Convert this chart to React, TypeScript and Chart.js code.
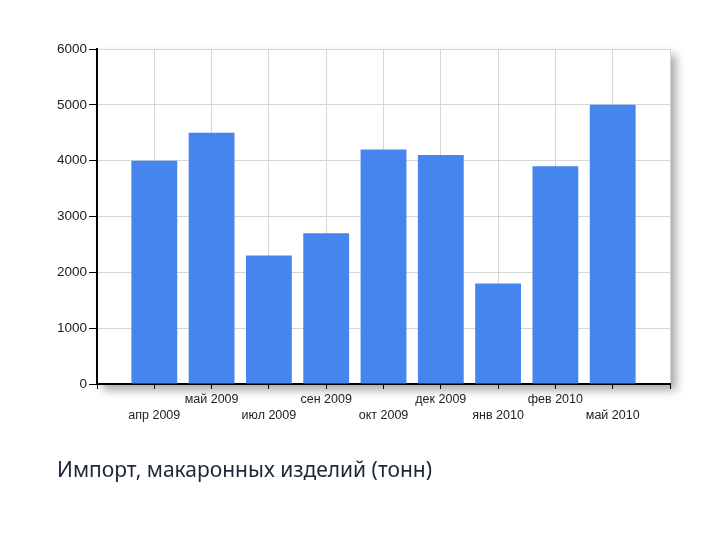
import React, { useEffect, useRef } from "react";
import { Chart, registerables } from "chart.js";

Chart.register(...registerables);

const months = [
  "апр 2009",
  "май 2009",
  "июл 2009",
  "сен 2009",
  "окт 2009",
  "дек 2009",
  "янв 2010",
  "фев 2010",
  "май 2010",
];
const values = [4000, 4500, 2300, 2700, 4200, 4100, 1800, 3900, 5000];
const yTicks = [0, 1000, 2000, 3000, 4000, 5000, 6000];
const caption = "Импорт, макаронных изделий (тонн)";

const shadowPlugin = {
  id: "areaShadow",
  beforeDraw(chart: any) {
    const { ctx, chartArea } = chart;
    ctx.save();
    ctx.shadowColor = "rgba(0,0,0,0.35)";
    ctx.shadowBlur = 9;
    ctx.shadowOffsetX = 6;
    ctx.shadowOffsetY = 6;
    ctx.fillStyle = "#ffffff";
    ctx.fillRect(
      chartArea.left,
      chartArea.top,
      chartArea.right - chartArea.left,
      chartArea.bottom - chartArea.top
    );
    ctx.restore();
  },
};

export default function App() {
  const ref = useRef<HTMLCanvasElement | null>(null);

  useEffect(() => {
    if (!ref.current) return;
    const labels: any[] = ["", ...months.map((m, i) => (i % 2 === 0 ? ["", m] : [m, ""])), ""];
    const data: (number | null)[] = [null, ...values, null];
    const chart = new Chart(ref.current, {
      type: "bar",
      data: {
        labels,
        datasets: [
          {
            data,
            backgroundColor: "#4684ee",
            borderWidth: 0,
            categoryPercentage: 0.8,
            barPercentage: 1,
          },
        ],
      },
      plugins: [shadowPlugin],
      options: {
        animation: false,
        responsive: false,
        layout: { padding: { top: 49, right: 50, left: 0, bottom: 0 } },
        plugins: {
          legend: { display: false },
          tooltip: { enabled: false },
          title: { display: false },
        },
        scales: {
          x: {
            type: "category",
            offset: false,
            afterFit: (scale: any) => {
              scale.height = 156;
            },
            grid: {
              offset: false,
              color: "#d6d6d6",
              lineWidth: 1,
              tickColor: "#000",
              tickLength: 5,
              drawTicks: true,
            },
            border: { color: "#000", width: 2 },
            ticks: {
              autoSkip: false,
              maxRotation: 0,
              minRotation: 0,
              padding: 3,
              color: "#222",
              font: { family: "'Liberation Sans', Arial, sans-serif", size: 12.5, lineHeight: 16 / 12.5 },
            },
          },
          y: {
            min: 0,
            max: 6000,
            afterFit: (scale: any) => {
              scale.width = 97;
            },
            afterBuildTicks: (scale: any) => {
              scale.ticks = yTicks.map((v) => ({ value: v }));
            },
            grid: {
              color: "#d6d6d6",
              lineWidth: 1,
              tickColor: "#000",
              tickLength: 8,
            },
            border: { color: "#000", width: 2 },
            ticks: {
              padding: 2,
              color: "#222",
              font: { family: "'Liberation Sans', Arial, sans-serif", size: 13.5 },
              callback: (v: any) => String(v),
            },
          },
        },
      },
    });
    return () => chart.destroy();
  }, []);

  return (
    <div
      style={{
        position: "fixed",
        left: 0,
        top: 0,
        width: 720,
        height: 540,
        background: "#fff",
      }}
    >
      <canvas ref={ref} width={720} height={540} style={{ display: "block" }} />
      <div
        style={{
          position: "absolute",
          left: 57,
          top: 459,
          fontFamily: "'Noto Sans', 'Open Sans', sans-serif",
          fontSize: 21,
          lineHeight: "20px",
          color: "#1b2838",
          whiteSpace: "nowrap",
        }}
      >
        {caption}
      </div>
    </div>
  );
}
